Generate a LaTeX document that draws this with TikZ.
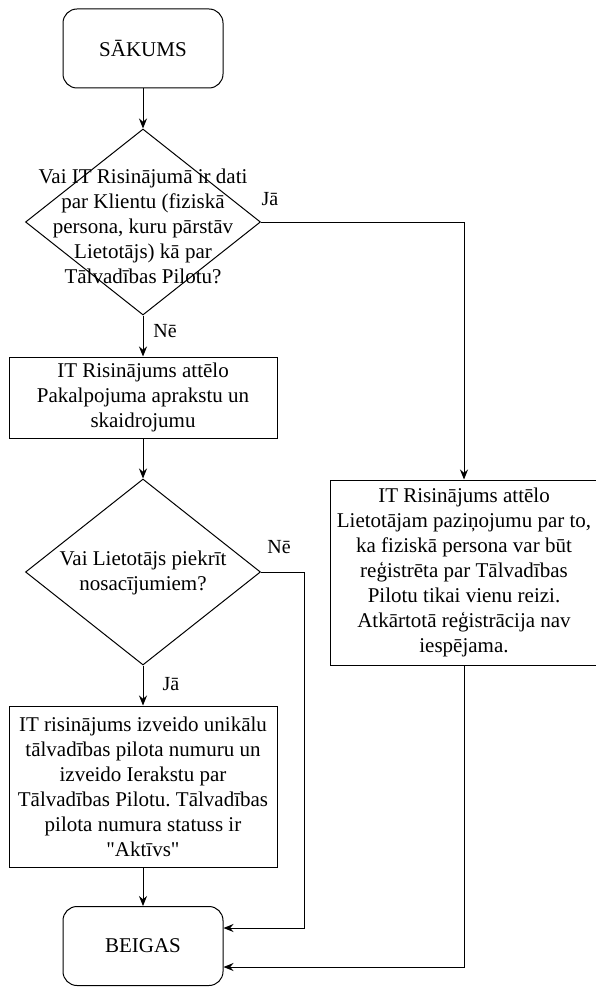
\documentclass[tikz,border=0pt]{standalone}
\usepackage{fontspec}
\setmainfont{Liberation Serif}[Ligatures=TeXOff]
\usetikzlibrary{arrows.meta, shapes.geometric}
\frenchspacing

\begin{document}
\begin{tikzpicture}[x=1pt, y=-1pt,
  term/.style={draw, rounded corners=14pt, minimum width=160pt, minimum height=79pt,
               line width=1pt, font=\fontsize{21}{25}\selectfont},
  box/.style={draw, minimum width=268pt, inner sep=0pt, align=center,
              line width=1pt, font=\fontsize{21}{25}\selectfont},
  dec/.style={draw, diamond, minimum width=235pt, minimum height=186pt, inner sep=0pt,
              line width=1pt},
  txt/.style={align=center, inner sep=0pt, font=\fontsize{21}{25}\selectfont},
  lbl/.style={font=\fontsize{20}{24}\selectfont},
  arr/.style={-{Stealth[length=10pt, width=8pt]}, line width=1pt}
]
\useasboundingbox (0,0) rectangle (595,987);

\node[term] (sakums) at (143,48.5) {SĀKUMS};

\node[dec] (q1) at (143,222) {};
\node[txt] (q1t) at (143,226)
  {Vai IT Risinājumā ir dati\\par Klientu (fiziskā\\persona, kuru pārstāv\\Lietotājs) kā par\\Tālvadības Pilotu?};

\node[box, minimum height=81pt] (info) at (143,397.5)
  {IT Risinājums attēlo\\Pakalpojuma aprakstu un\\skaidrojumu};

\node[dec] (q2) at (143,572) {};
\node[txt] (q2t) at (143,573) {Vai Lietotājs piekrīt\\nosacījumiem?};

\node[box, minimum height=161pt] (ieraksts) at (143,786.5)
  {IT risinājums izveido unikālu\\tālvadības pilota numuru un\\izveido Ierakstu par\\Tālvadības Pilotu. Tālvadības\\pilota numura statuss ir\\"Aktīvs"};

\node[box, minimum height=185pt] (pazinojums) at (464,572.5)
  {IT Risinājums attēlo\\Lietotājam paziņojumu par to,\\ka fiziskā persona var būt\\reģistrēta par Tālvadības\\Pilotu tikai vienu reizi.\\Atkārtotā reģistrācija nav\\iespējama.};

\node[term] (beigas) at (143,946) {BEIGAS};

\coordinate (q2bend) at (304,572);

\foreach \a/\b in {sakums/q1, q1/info, info/q2, q2/ieraksts, ieraksts/beigas}
  \draw[arr] (\a) -- (\b);

\draw[arr] (q1.east) -| (pazinojums.north);
\draw[arr] (q2.east) -- (q2bend) |- ([yshift=18pt]beigas.east);
\draw[arr] (pazinojums.south) |- ([yshift=-21pt]beigas.east);

\node[lbl] (ja1) at (270,199) {Jā};
\node[lbl] (ne1) at (165,331) {Nē};
\node[lbl] (ne2) at (279,547) {Nē};
\node[lbl] (ja2) at (171,684) {Jā};
\end{tikzpicture}
\end{document}
